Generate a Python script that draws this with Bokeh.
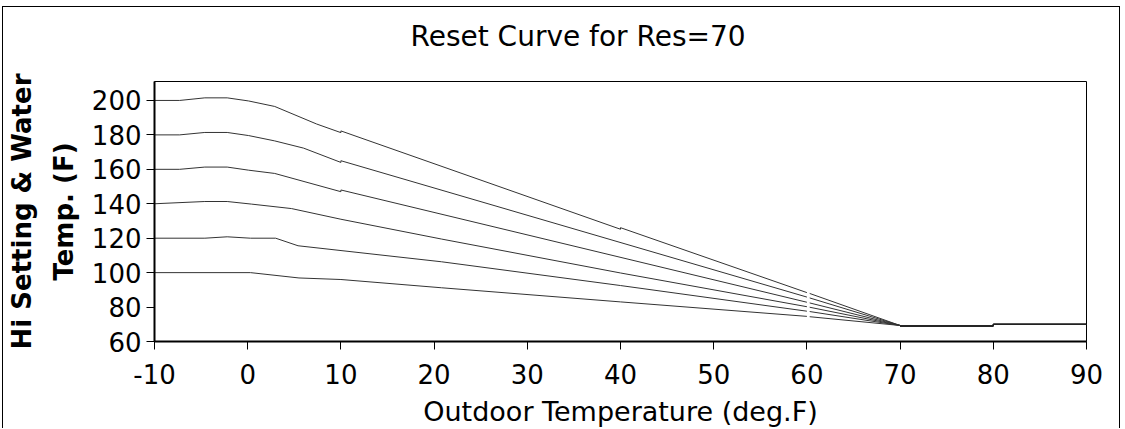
import numpy as np
from bokeh.plotting import figure
from bokeh.models import Range1d, FixedTicker, Title
from bokeh.embed import file_html
from bokeh.resources import INLINE

nan = float("nan")

# Tick values
x_ticks = [-10, 0, 10, 20, 30, 40, 50, 60, 70, 80, 90]
y_ticks = [60, 80, 100, 120, 140, 160, 180, 200]

# Outdoor temperature (deg F) and water temperature (F) for each Hi setting
out_t_200 = [-10, -7.3, -4.6, -2.2, 0.1, 2.9, 7.4, 10.0, 10.0, 40.0, 40.0, 60.0, nan, 60.3, 70.0]
water_200 = [200, 200, 201.5, 201.5, 199.7, 196.5, 186.3, 181.3, 182.3, 125.2, 126.1, 88.4, nan, 87.9, 69.3]

out_t_180 = [-10, -7.3, -4.6, -2.2, 0.1, 2.9, 6.0, 10.0, 10.0, 60.0, nan, 60.3, 70.0]
water_180 = [180, 180, 181.4, 181.4, 179.6, 176.5, 172.3, 164.0, 165.0, 85.8, nan, 85.3, 69.3]

out_t_160 = [-10, -7.3, -4.6, -2.2, 0.1, 2.9, 10.0, 10.0, 60.0, nan, 60.3, 70.0]
water_160 = [160, 160, 161.3, 161.3, 159.5, 157.6, 147.0, 148.0, 82.8, nan, 82.4, 69.3]

out_t_140 = [-10, -4.6, -2.2, 0.4, 4.7, 10.0, 20.8, 40.0, 60.0, nan, 60.3, 70.0]
water_140 = [140, 141.3, 141.3, 139.8, 137.2, 131.0, 119.5, 99.8, 80.2, nan, 79.9, 69.3]

out_t_120 = [-10, -4.6, -2.2, 0.3, 3.0, 5.4, 20.8, 40.0, 60.0, nan, 60.3, 70.0]
water_120 = [120, 120, 120.8, 120, 120, 115.6, 106.3, 92.5, 77.6, nan, 77.4, 69.3]

out_t_100 = [-10, 0.3, 5.5, 10.0, 20.8, 40.0, 60.0, nan, 60.3, 70.0]
water_100 = [100, 100, 96.9, 96.0, 91.2, 83.0, 74.6, nan, 74.4, 69.3]

# Common tail above 70 deg F
out_t_tail = [70.0, 80.0, 80.0, 90.0]
water_tail = [69.0, 69.0, 70.0, 70.0]

series = [
    (out_t_200, water_200),
    (out_t_180, water_180),
    (out_t_160, water_160),
    (out_t_140, water_140),
    (out_t_120, water_120),
    (out_t_100, water_100),
]

FONT = "DejaVu Sans"

p = figure(width=1118, height=422, output_backend="svg", toolbar_location=None,
           x_range=Range1d(-10, 90), y_range=Range1d(60, 211),
           min_border_left=150, min_border_right=35, min_border_top=74,
           min_border_bottom=88, title="Reset Curve for Res=70")
p.styles = {"margin-left": "2px", "margin-top": "6px",
            "border-top": "1px solid black", "border-left": "1px solid black",
            "border-right": "1px solid black"}

# blank spacer between the frame and the title
p.add_layout(Title(text=" ", text_font=FONT, text_font_size="19px",
                   standoff=0), "above")

p.title.text_font = FONT
p.title.text_font_size = "28px"
p.title.text_font_style = "normal"
p.title.text_color = "black"
p.title.align = "left"
p.title.offset = 256
p.title.vertical_align = "bottom"
p.title.standoff = 10

p.background_fill_color = "white"
p.border_fill_color = "white"
p.outline_line_color = "black"
p.outline_line_width = 1
p.xgrid.visible = False
p.ygrid.visible = False

for ax, ticks in ((p.xaxis, x_ticks), (p.yaxis, y_ticks)):
    ax.ticker = FixedTicker(ticks=ticks)
    ax.minor_tick_line_color = None
    ax.major_tick_in = 0
    ax.major_tick_out = 8
    ax.major_tick_line_color = "black"
    ax.major_tick_line_width = 1
    ax.axis_line_color = "black"
    ax.axis_line_width = 2
    ax.major_label_text_font = FONT
    ax.major_label_text_font_size = "26px"
    ax.major_label_text_color = "black"
    ax.axis_label_text_font = FONT
    ax.axis_label_text_color = "black"

p.xaxis.major_label_overrides = {t: str(t) for t in x_ticks}
p.yaxis.major_label_standoff = 5
p.xaxis.major_label_standoff = 14

p.xaxis.axis_label = "Outdoor Temperature (deg.F)"
p.xaxis.axis_label_text_font_size = "27px"
p.xaxis.axis_label_text_font_style = "normal"
p.xaxis.axis_label_standoff = 9

p.yaxis.axis_label = "Hi Setting & Water\nTemp. (F)"
p.yaxis.axis_label_text_font_size = "26px"
p.yaxis.axis_label_text_font_style = "bold"
p.yaxis.axis_label_text_line_height = 1.4
p.yaxis.axis_label_standoff = 10

for xs, ys in series:
    p.line(np.array(xs, dtype=float), np.array(ys, dtype=float),
           line_color="#333333", line_width=1)
    p.line(out_t_tail, water_tail, line_color="#222222", line_width=1)

open("out.html", "w").write(file_html(p, INLINE))
